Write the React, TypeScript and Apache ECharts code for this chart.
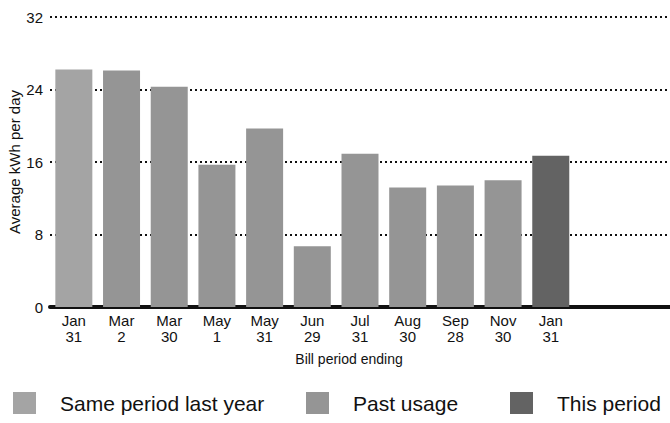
import React, { useEffect, useRef } from "react";
import * as echarts from "echarts";

const months = ["Jan", "Mar", "Mar", "May", "May", "Jun", "Jul", "Aug", "Sep", "Nov", "Jan", "", ""];
const days = ["31", "2", "30", "1", "31", "29", "31", "30", "28", "30", "31", "", ""];
const usage = [26.2, 26.1, 24.3, 15.7, 19.7, 6.7, 16.9, 13.2, 13.4, 14.0, 16.7, null, null];
// 0 = same period last year, 1 = past usage, 2 = this period
const kinds = [0, 1, 1, 1, 1, 1, 1, 1, 1, 1, 2, -1, -1];
const seriesNames = ["Same period last year", "Past usage", "This period"];
const seriesColors = ["#a4a4a4", "#959595", "#636363"];
const yTicks = [0, 8, 16, 24, 32];

export default function App() {
  const ref = useRef<HTMLDivElement>(null);
  useEffect(() => {
    if (!ref.current) return;
    const chart = echarts.init(ref.current, null, { renderer: "svg" });
    const categories = months.map((m, i) => (m ? `${m}\n${days[i]}` : ""));
    const series = seriesNames.map((name, k) => ({
      name,
      type: "bar",
      stack: "usage",
      barWidth: 37,
      itemStyle: { color: seriesColors[k] },
      data: usage.map((v, i) => (kinds[i] === k ? v : null)),
    }));
    const legendLefts = [8, 301, 505];
    chart.setOption({
      animation: false,
      textStyle: { fontFamily: "Liberation Sans, Arial, sans-serif" },
      grid: { left: 50, right: 0, top: 17, bottom: 116, containLabel: false, outerBoundsMode: "none" },
      legend: seriesNames.map((name, k) => ({
        data: [name],
        left: legendLefts[k],
        top: 387,
        itemWidth: 23,
        itemHeight: 22,
        icon: "rect",
        selectedMode: false,
        textStyle: { fontSize: 21, color: "#111", padding: [0, 0, 0, 19] },
      })),
      xAxis: {
        type: "category",
        data: categories,
        axisLine: { show: true, lineStyle: { color: "#111", width: 4 } },
        axisTick: { show: false },
        axisLabel: { color: "#111", fontSize: 15, lineHeight: 16, margin: 5, interval: 0 },
        name: "Bill period ending",
        nameLocation: "middle",
        nameGap: 45,
        nameMoveOverlap: false,
        nameTextStyle: { color: "#111", fontSize: 14, verticalAlign: "top", padding: [0, 22, 0, 0] },
      },
      yAxis: {
        type: "value",
        min: yTicks[0],
        max: yTicks[yTicks.length - 1],
        interval: 8,
        axisLine: { show: false },
        axisTick: { show: false },
        axisLabel: { color: "#111", fontSize: 15, margin: 7 },
        splitLine: { show: true, lineStyle: { color: "#111", width: 2, type: [2, 3] } },
        name: "Average kWh per day",
        nameLocation: "middle",
        nameGap: 28,
        nameMoveOverlap: false,
        nameTextStyle: { color: "#111", fontSize: 15 },
      },
      series,
    });
    return () => chart.dispose();
  }, []);
  return (
    <div
      ref={ref}
      style={{ position: "absolute", left: 0, top: 0, width: 670, height: 423, background: "#fff" }}
    />
  );
}
